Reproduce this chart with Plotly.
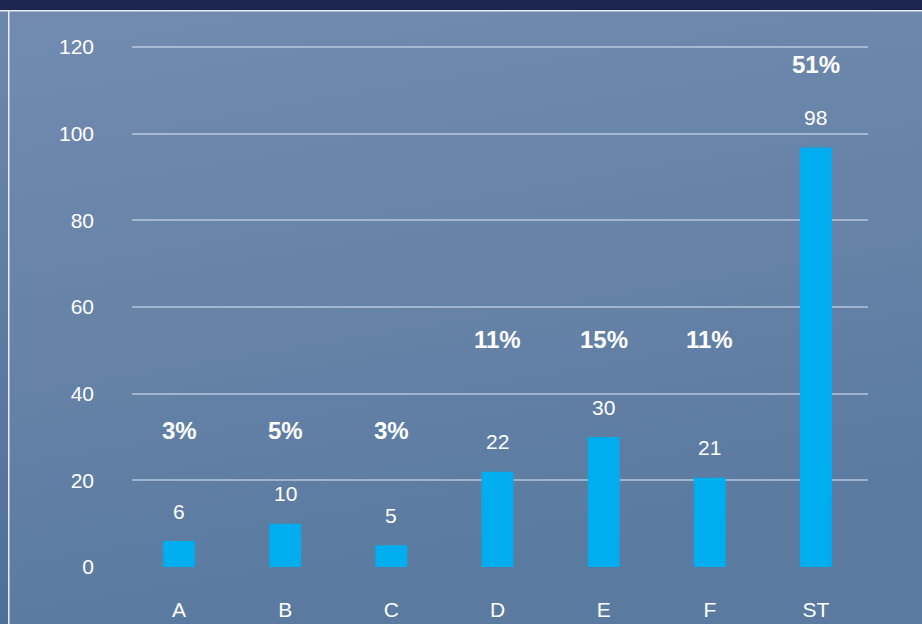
import plotly.graph_objects as go
import urllib.parse

categories = ["A", "B", "C", "D", "E", "F", "ST"]
bar_values = [6, 10, 5, 22, 30, 20.6, 96.8]
value_labels = ["6", "10", "5", "22", "30", "21", "98"]
pct_labels = ["3%", "5%", "3%", "11%", "15%", "11%", "51%"]
pct_y = [31.5, 31.5, 31.5, 52.5, 52.5, 52.5, 116]
y_ticks = [0, 20, 40, 60, 80, 100, 120]

W, H = 922, 624
ML, MR, MT, MB = 132, 54, 46, 57
FONT = "Liberation Sans, Arial, sans-serif"

svg = f'''<svg xmlns="http://www.w3.org/2000/svg" width="{W}" height="{H}" viewBox="0 0 {W} {H}" preserveAspectRatio="none">
<defs>
<linearGradient id="g" x1="0" y1="0" x2="0.25" y2="1">
<stop offset="0" stop-color="#738bb0"/>
<stop offset="0.5" stop-color="#6783a8"/>
<stop offset="1" stop-color="#5a7aa0"/>
</linearGradient>
<linearGradient id="s" x1="0" y1="0" x2="0" y2="1">
<stop offset="0" stop-color="#6e88ad"/>
<stop offset="1" stop-color="#4f6f98"/>
</linearGradient>
</defs>
<rect x="0" y="0" width="{W}" height="{H}" fill="url(#g)"/>
<rect x="0" y="0" width="8" height="{H}" fill="url(#s)"/>
<rect x="0" y="0" width="{W}" height="10" fill="#1b2550"/>
<rect x="0" y="10" width="{W}" height="1.5" fill="#e8ecf4"/>
<rect x="8" y="10" width="1.5" height="{H}" fill="#e8ecf4"/>
</svg>'''
bg_uri = "data:image/svg+xml;charset=utf-8," + urllib.parse.quote(svg)

pw = W - ML - MR
ph = H - MT - MB

fig = go.Figure()
fig.add_trace(go.Bar(
    x=categories, y=bar_values,
    marker=dict(color="#00aeef", line=dict(width=0)),
    width=0.3, hoverinfo="skip",
))

annotations = []
for c, v, t in zip(categories, bar_values, value_labels):
    annotations.append(dict(x=c, y=v, text=t, showarrow=False, yshift=30,
                            font=dict(family=FONT, size=21, color="white"),
                            xref="x", yref="y"))
for c, py, t in zip(categories, pct_y, pct_labels):
    annotations.append(dict(x=c, y=py, text=f"<b>{t}</b>", showarrow=False,
                            font=dict(family=FONT, size=24, color="white"),
                            xref="x", yref="y"))

fig.update_layout(
    width=W, height=H,
    margin=dict(l=ML, r=MR, t=MT, b=MB, pad=0, autoexpand=False),
    paper_bgcolor="#6783a8",
    plot_bgcolor="rgba(0,0,0,0)",
    showlegend=False,
    images=[dict(source=bg_uri, xref="paper", yref="paper",
                 x=-ML / pw, y=1 + MT / ph, sizex=W / pw, sizey=H / ph,
                 xanchor="left", yanchor="top", sizing="stretch", layer="below")],
    xaxis=dict(range=[-0.443, 6.49], showgrid=False, zeroline=False, showline=False,
               tickfont=dict(family=FONT, size=21, color="white"), automargin=False,
               ticks="", ticklabelstandoff=28, fixedrange=True),
    yaxis=dict(range=[0, 120.25], tickvals=y_ticks, showgrid=True,
               gridcolor="rgba(215,224,238,0.55)", gridwidth=1.5,
               zeroline=False, showline=False, automargin=False,
               tickfont=dict(family=FONT, size=21, color="white"),
               ticks="", ticklabelstandoff=37, fixedrange=True),
    annotations=annotations,
)
fig.write_html("out.html")
